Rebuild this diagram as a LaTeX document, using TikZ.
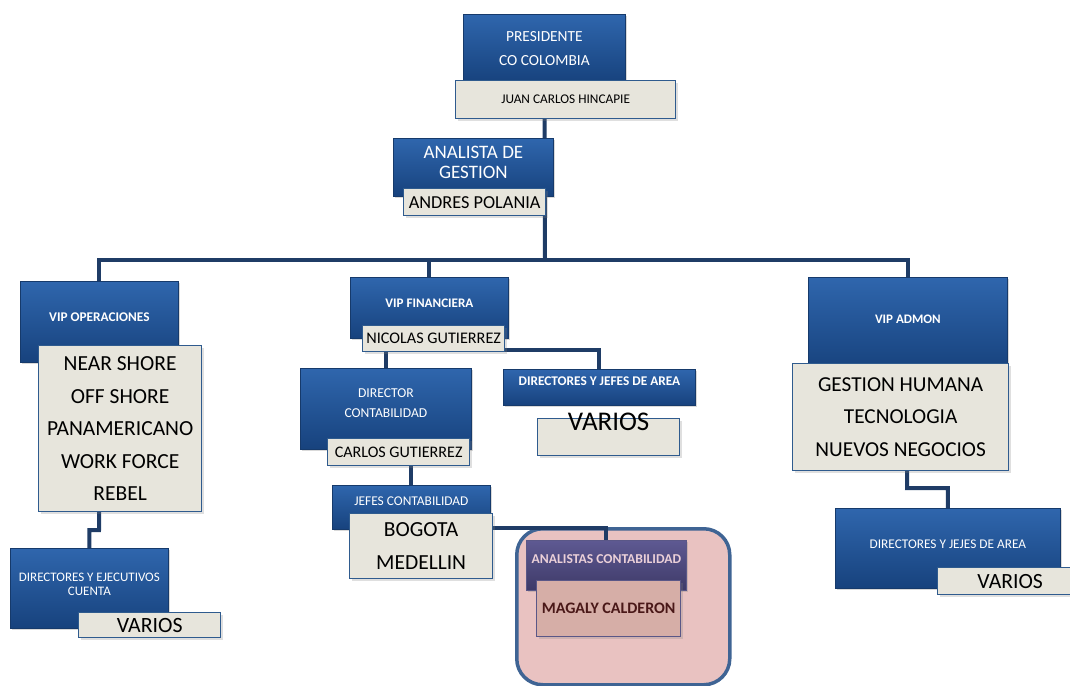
\documentclass[tikz,border=0pt]{standalone}
\usepackage{fontspec}
\setmainfont{Carlito}
\usetikzlibrary{shadows}
\definecolor{boxtop}{HTML}{2F66AD}
\definecolor{boxbot}{HTML}{17427D}
\definecolor{boxedge}{HTML}{163A6B}
\definecolor{namefill}{HTML}{E7E5DC}
\definecolor{nameedge}{HTML}{2F5B8E}
\definecolor{linkcol}{HTML}{1F3C66}
\definecolor{pinkfill}{HTML}{E9C2C1}
\definecolor{pinkedge}{HTML}{3F6494}
\definecolor{purtop}{HTML}{5E5992}
\definecolor{purbot}{HTML}{3E3A68}
\definecolor{rosefill}{HTML}{D6AEA7}
\definecolor{roseedge}{HTML}{5A5787}
\definecolor{rosetext}{HTML}{4A1818}
\definecolor{paletext}{HTML}{EBD0D8}
\pgfdeclarelayer{back}
\pgfdeclarelayer{mid}
\pgfsetlayers{back,mid,main}

\begin{document}
\begin{tikzpicture}[x=1pt,y=-1pt]
\useasboundingbox (0,0) rectangle (1070,685);
\begin{scope}

\tikzstyle{rolenode} = [anchor=north west,inner sep=0pt,align=center,draw=boxedge,thick,top color=boxtop,bottom color=boxbot,text=white,drop shadow={opacity=0.3,shadow xshift=2pt,shadow yshift=-2pt}];
\tikzstyle{namenode} = [anchor=north west,inner sep=0pt,align=center,draw=nameedge,line width=1.3pt,fill=namefill,text=black,drop shadow={opacity=0.25,shadow xshift=2pt,shadow yshift=-2pt}];
\tikzstyle{linknode} = [draw=linkcol,line width=4pt];

% top of the chart
\node [rolenode,minimum width=162pt,minimum height=68pt,font=\fontsize{15.4}{24}\selectfont] (pres) at (463,14) {PRESIDENTE\\CO COLOMBIA};
\node [namenode,minimum width=220pt,minimum height=38pt,font=\fontsize{13.3}{15}\selectfont] (juan) at (455,80) {JUAN CARLOS HINCAPIE};
\node [rolenode,minimum width=160pt,minimum height=58pt,text depth=10pt,font=\fontsize{19}{20}\selectfont] (gest) at (393,138) {ANALISTA DE\\GESTION};
\node [namenode,minimum width=142pt,minimum height=27pt,font=\fontsize{18.3}{20}\selectfont] (andres) at (403,188) {ANDRES POLANIA};

% operaciones
\node [rolenode,minimum width=158pt,minimum height=81pt,text depth=9pt,font=\fontsize{13.3}{15}\selectfont\bfseries] (vipop) at (20,281) {VIP OPERACIONES};
\node [namenode,minimum width=163pt,minimum height=166pt,font=\fontsize{21.5}{32.5}\selectfont] (opslist) at (38,345) {NEAR SHORE\\OFF SHORE\\PANAMERICANO\\WORK FORCE\\REBEL};
\node [rolenode,minimum width=158pt,minimum height=80pt,text depth=9pt,font=\fontsize{13}{14}\selectfont] (direj) at (10,548) {DIRECTORES Y EJECUTIVOS\\CUENTA};
\node [namenode,minimum width=142pt,minimum height=25pt,font=\fontsize{21.8}{23}\selectfont] (varop) at (78,612) {VARIOS};

% financiera
\node [rolenode,minimum width=158pt,minimum height=61pt,text depth=10pt,font=\fontsize{13.1}{15}\selectfont\bfseries] (vipfin) at (350,277) {VIP FINANCIERA};
\node [namenode,minimum width=142pt,minimum height=26pt,font=\fontsize{16.2}{18}\selectfont] (nicolas) at (362,325) {NICOLAS GUTIERREZ};
\node [rolenode,minimum width=171pt,minimum height=81pt,text depth=12pt,font=\fontsize{13.6}{20}\selectfont] (dircont) at (300,368) {DIRECTOR\\CONTABILIDAD};
\node [namenode,minimum width=142pt,minimum height=27pt,font=\fontsize{16.1}{18}\selectfont] (carlos) at (327,438) {CARLOS GUTIERREZ};
\node [rolenode,minimum width=192pt,minimum height=36pt,text depth=12pt,font=\fontsize{13.3}{15}\selectfont\bfseries] (dirjef) at (503,369) {DIRECTORES Y JEFES DE AREA};
\node [namenode,minimum width=142pt,minimum height=37pt,text height=0pt,text depth=13pt,font=\fontsize{27}{29}\selectfont] (varfin) at (537,418) {VARIOS};
\node [rolenode,minimum width=158pt,minimum height=44pt,text depth=12pt,font=\fontsize{13.4}{15}\selectfont] (jefes) at (332,485) {JEFES CONTABILIDAD};
\node [namenode,minimum width=143pt,minimum height=65pt,font=\fontsize{21.5}{33}\selectfont] (ciudades) at (349,513) {BOGOTA\\MEDELLIN};

% analistas
\begin{pgfonlayer}{back}
\node [anchor=north west,inner sep=0pt,minimum width=213pt,minimum height=156pt,draw=pinkedge,line width=3.5pt,fill=pinkfill,rounded corners=26pt] (zona) at (515,527) {};
\end{pgfonlayer}
\node [rolenode,draw=roseedge,top color=purtop,bottom color=purbot,text=paletext,minimum width=160pt,minimum height=50pt,text depth=12pt,font=\fontsize{13.6}{15}\selectfont\bfseries] (analistas) at (526,540) {ANALISTAS CONTABILIDAD};
\node [namenode,draw=roseedge,fill=rosefill,text=rosetext,minimum width=144pt,minimum height=56pt,font=\fontsize{16}{18}\selectfont\bfseries] (magaly) at (536,580) {MAGALY CALDERON};

% admon
\node [rolenode,minimum width=199pt,minimum height=93pt,text depth=9pt,font=\fontsize{13}{15}\selectfont\bfseries] (vipadm) at (808,277) {VIP ADMON};
\node [namenode,minimum width=216pt,minimum height=107pt,font=\fontsize{21.3}{32.5}\selectfont] (admlist) at (792,363) {GESTION HUMANA\\TECNOLOGIA\\NUEVOS NEGOCIOS};
\node [rolenode,minimum width=225pt,minimum height=80pt,text depth=8pt,font=\fontsize{13.3}{15}\selectfont] (dirja) at (835,508) {DIRECTORES Y JEJES DE AREA};
\node [namenode,minimum width=145pt,minimum height=27pt,font=\fontsize{21.7}{23}\selectfont] (varadm) at (937,567) {VARIOS};

\coordinate (bus) at (545,260);
\coordinate (opbend) at (99,530);
\coordinate (admbend) at (907,488);

\begin{pgfonlayer}{mid}
\draw [linknode] (pres.south) -- (bus);
\draw [linknode] (bus) -| (vipop.north);
\draw [linknode] (bus) -| (vipfin.north);
\draw [linknode] (bus) -| (vipadm.north);
\draw [linknode] (vipop.south) -- (opbend) -| (direj.north);
\draw [linknode] (dircont.north |- nicolas.south) -- (dircont.north);
\draw [linknode] ([yshift=2pt]nicolas.south east) -| (dirjef.north);
\draw [linknode] (jefes.north |- carlos.south) -- (jefes.north);
\draw [linknode] ([yshift=-15pt]ciudades.north east) -| (analistas.north);
\draw [linknode] (vipadm.south) -- (admbend) -| (dirja.north);
\end{pgfonlayer}

\end{scope}
\end{tikzpicture}
\end{document}
